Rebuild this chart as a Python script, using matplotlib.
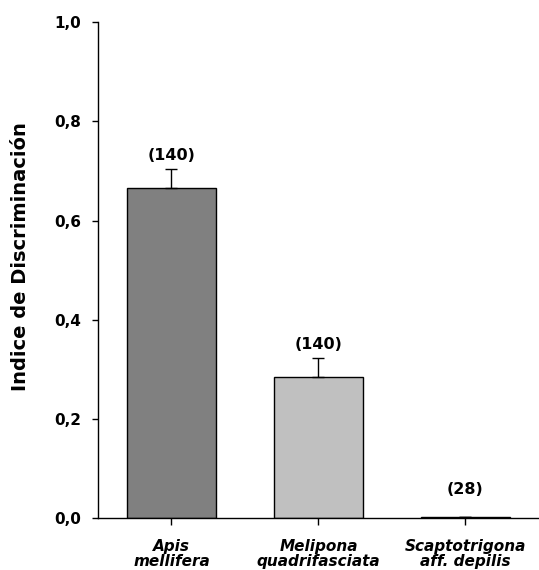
import matplotlib
matplotlib.use("Agg")
import matplotlib.pyplot as plt
from matplotlib.ticker import FuncFormatter

# Indice de discriminación por especie (media y error estándar)
especies = ["Apis\nmellifera", "Melipona\nquadrifasciata", "Scaptotrigona\naff. depilis"]
medias = [0.666, 0.284, 0.003]
errores = [0.038, 0.039, 0.0]
n_abejas = [140, 140, 28]
colores = ["#808080", "#c0c0c0", "#c0c0c0"]

plt.rcParams["font.family"] = ["DejaVu Sans"]
plt.rcParams["font.weight"] = "bold"

fig = plt.figure(figsize=(5.39, 5.70), dpi=100)
ax = fig.add_axes([0.1818, 0.0904, 0.8182, 0.8710])

x = range(len(especies))
ax.bar(x, medias, width=0.6, color=colores, edgecolor="black", linewidth=1.0, zorder=2)
# solo la barra de error hacia arriba
ax.errorbar(x, medias, yerr=[[0] * len(errores), errores], fmt="none",
            ecolor="black", elinewidth=1.0, capsize=4, capthick=1.0, zorder=3)

for i in x:
    tope = max(medias[i] + errores[i], 0.03)
    ax.annotate("(%d)" % n_abejas[i], (i, tope), xytext=(0, 4.5),
                textcoords="offset points", ha="center", va="bottom",
                fontsize=11.5, fontweight="bold")

ax.set_xlim(-0.5, 2.5)
ax.set_ylim(0, 1.0)
ax.set_yticks([0, 0.2, 0.4, 0.6, 0.8, 1.0])
ax.yaxis.set_major_formatter(FuncFormatter(lambda v, p: ("%.1f" % v).replace(".", ",")))
ax.set_xticks(list(x))
ax.set_xticklabels(especies, fontstyle="italic", fontweight="bold", fontsize=11,
                   linespacing=0.95)

ax.spines["top"].set_visible(False)
ax.spines["right"].set_visible(False)
ax.spines["left"].set_linewidth(1.0)
ax.spines["bottom"].set_linewidth(1.0)
ax.tick_params(axis="y", direction="out", length=4, width=1.0, pad=8, labelsize=11)
ax.tick_params(axis="x", direction="out", length=5, width=1.0, pad=10)

ax.set_ylabel("Indice de Discriminación", fontsize=14, fontweight="bold")
ax.yaxis.set_label_coords(-0.155, 0.527)

fig.savefig("out.png", dpi=100)
